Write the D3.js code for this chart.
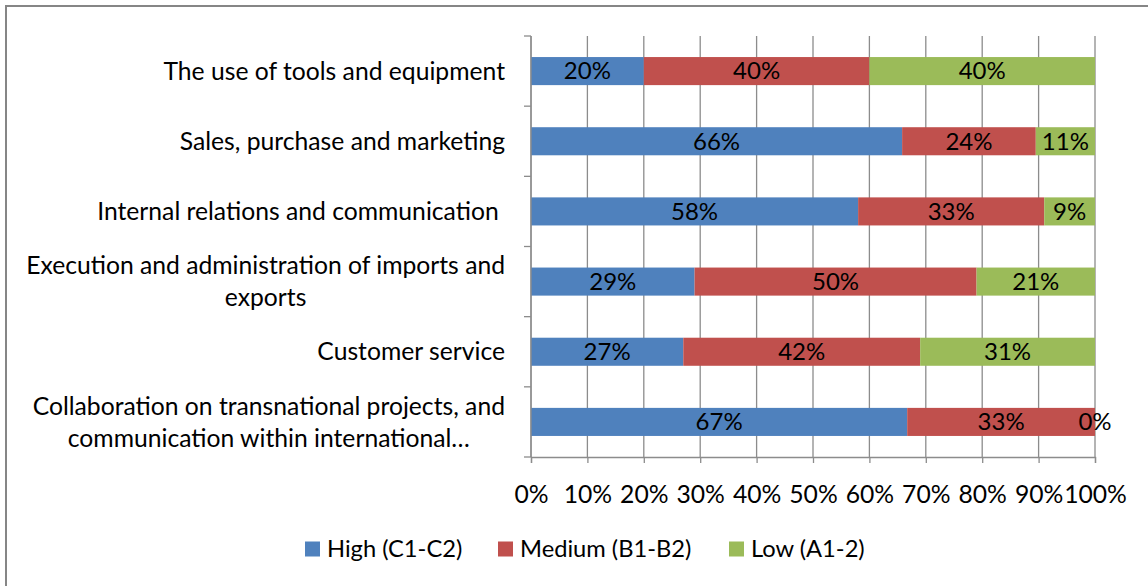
<!DOCTYPE html>
<html>
<head>
<meta charset="utf-8">
<script src="https://cdn.jsdelivr.net/npm/d3@7"></script>
<style>
    body { margin: 0; background: #fff; }
    svg text { font-family: Lato, "Open Sans", sans-serif; fill: #000; }
</style>
</head>
<body>
<div id="chart-div"></div>
<script>
// CHART DATA /////////////////////////////////////////////////////////////////
const categories = [
    "The use of tools and equipment",
    "Sales, purchase and marketing",
    "Internal relations and communication ",
    "Execution and administration of imports and\nexports",
    "Customer service",
    "Collaboration on transnational projects, and\ncommunication within international…"
];
const seriesNames = ["High (C1-C2)", "Medium (B1-B2)", "Low (A1-2)"];
const high   = [20, 65.8, 58, 29, 27, 66.7];
const medium = [40, 23.7, 33, 50, 42, 33.3];
const low    = [40, 10.5,  9, 21, 31, 0];
const xTicks = [0, 10, 20, 30, 40, 50, 60, 70, 80, 90, 100];
const colors = ["#4F81BD", "#C0504D", "#9BBB59"];

(function() {
    const W = 1148, H = 586;
    const labelSize = 24.7;   // category + tick labels
    const dataSize = 24;      // bar labels
    const legendSize = 23.7;
    const gridColor = "#8c8c8c";

    const svg = d3.select("#chart-div").append("svg")
        .attr("width", W)
        .attr("height", H);

    // chart frame (runs off the right and bottom of the picture)
    svg.append("rect")
        .attr("x", 6).attr("y", 6)
        .attr("width", W + 20).attr("height", H + 20)
        .attr("fill", "#fff")
        .attr("stroke", "#868686")
        .attr("stroke-width", 2);

    // Scales
    const x = d3.scaleLinear().domain([0, 100]).range([531, 1095]);
    const y = d3.scaleBand().domain(categories).range([36, 457])
        .paddingInner(0.6).paddingOuter(0.3);
    const yTop = 36, yBottom = 457;

    // Vertical gridlines
    svg.append("g").selectAll("line")
        .data(xTicks)
        .enter().append("line")
        .attr("x1", d => x(d)).attr("x2", d => x(d))
        .attr("y1", yTop).attr("y2", yBottom)
        .attr("stroke", gridColor).attr("stroke-width", 1.3);

    // Stack the series
    const rows = categories.map((c, i) => ({cat: c, high: high[i], medium: medium[i], low: low[i]}));
    const stack = d3.stack().keys(["high", "medium", "low"])(rows);

    const layers = svg.append("g").selectAll("g")
        .data(stack)
        .enter().append("g")
        .attr("fill", (d, i) => colors[i]);

    layers.selectAll("rect")
        .data(d => d)
        .enter().append("rect")
        .attr("x", d => x(d[0]))
        .attr("y", d => y(d.data.cat))
        .attr("width", d => x(d[1]) - x(d[0]))
        .attr("height", y.bandwidth());

    // Data labels, centred in each segment
    layers.selectAll("text")
        .data(d => d)
        .enter().append("text")
        .attr("x", d => (x(d[0]) + x(d[1])) / 2)
        .attr("y", d => y(d.data.cat) + y.bandwidth() / 2)
        .attr("dy", "0.35em")
        .attr("text-anchor", "middle")
        .style("font-size", dataSize + "px")
        .text(d => Math.round(d[1] - d[0]) + "%");

    // Left axis
    svg.append("line")
        .attr("x1", x(0)).attr("x2", x(0))
        .attr("y1", yTop).attr("y2", yBottom)
        .attr("stroke", gridColor).attr("stroke-width", 1.3);
    svg.append("g").selectAll("line")
        .data(d3.range(categories.length + 1))
        .enter().append("line")
        .attr("x1", x(0) - 7).attr("x2", x(0))
        .attr("y1", i => yTop + i * (yBottom - yTop) / categories.length)
        .attr("y2", i => yTop + i * (yBottom - yTop) / categories.length)
        .attr("stroke", gridColor).attr("stroke-width", 1.3);

    // Bottom axis
    const xAxis = svg.append("g")
        .attr("transform", `translate(0,${yBottom})`)
        .call(d3.axisBottom(x).tickValues(xTicks).tickSize(6).tickPadding(22)
            .tickFormat(d => d + "%"));
    xAxis.select(".domain").attr("stroke", gridColor).attr("stroke-width", 1.3);
    xAxis.selectAll(".tick line").attr("stroke", gridColor).attr("stroke-width", 1.3);
    xAxis.selectAll("text")
        .attr("font-family", null)
        .attr("font-size", null)
        .style("font-size", labelSize + "px")
        .attr("fill", "#000");

    // Category labels: block right aligned, lines centred inside it
    const lineH = 32;
    categories.forEach(function(c) {
        const lines = c.split("\n");
        const g = svg.append("g");
        const cy = y(c) + y.bandwidth() / 2;
        const texts = lines.map((ln, j) => g.append("text")
            .attr("y", cy + (j - (lines.length - 1) / 2) * lineH)
            .attr("dy", "0.35em")
            .style("font-size", labelSize + "px")
            .style("white-space", "pre")
            .text(ln));
        if (lines.length === 1) {
            texts[0].attr("x", 505).attr("text-anchor", "end");
        } else {
            const maxW = d3.max(texts, t => t.node().getComputedTextLength());
            texts.forEach(t => t.attr("x", 505 - maxW / 2).attr("text-anchor", "middle"));
        }
    });

    // Legend
    const legendX = [305, 498, 729];
    const legend = svg.append("g").selectAll("g")
        .data(seriesNames)
        .enter().append("g")
        .attr("transform", (d, i) => `translate(${legendX[i]},549)`);
    legend.append("rect")
        .attr("x", 0).attr("y", -7.5)
        .attr("width", 15).attr("height", 15)
        .attr("fill", (d, i) => colors[i]);
    legend.append("text")
        .attr("x", 22)
        .attr("dy", "0.35em")
        .style("font-size", legendSize + "px")
        .text(d => d);
})();
</script>
</body>
</html>
